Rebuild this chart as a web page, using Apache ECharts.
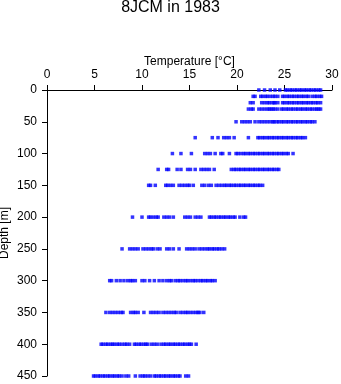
<!DOCTYPE html>
<html><head><meta charset="utf-8">
<script src="https://cdn.jsdelivr.net/npm/echarts@6/dist/echarts.min.js"></script>
<style>html,body{margin:0;padding:0;background:#fff}#c{width:341px;height:384px}</style>
</head><body><div id="c"></div>
<script>
var depths = [0,10,20,30,50,75,100,125,150,200,250,300,350,400,450];
var xTicks = [0,5,10,15,20,25,30];
var yTicks = [0,50,100,150,200,250,300,350,400,450];
var t0 = [22.3,22.9,23.5,24.0,24.5,25.1,25.3,25.6,25.8,26.1,26.3,26.6,26.8,27.1,27.3,27.6,27.8,28.1,28.3,28.6,28.8];
var t10 = [21.7,21.9,22.5,22.7,23.0,23.2,23.5,23.8,24.0,24.3,24.8,25.0,25.3,25.5,25.8,26.0,26.3,26.5,26.8,27.0,27.3,27.5,27.9,28.2,28.4,28.7,28.9];
var t20 = [21.4,21.7,22.6,22.9,23.2,23.4,23.7,23.9,24.0,24.3,24.8,25.0,25.3,25.5,25.8,26.0,26.3,26.5,26.8,27.0,27.3,27.5,27.8,28.0,28.3,28.5,28.8];
var t30 = [21.2,21.5,21.7,22.3,22.6,22.9,23.2,23.4,23.6,23.8,24.0,24.3,24.7,24.9,25.2,25.4,25.7,25.9,26.2,26.4,26.7,26.9,27.2,27.4,27.7,27.9,28.2,28.4,28.6,28.8];
var t50 = [19.9,20.5,20.8,21.1,21.4,21.9,22.3,22.6,22.9,23.2,23.5,23.8,23.9,24.2,24.4,24.7,24.9,25.2,25.4,25.7,25.9,26.2,26.4,26.7,26.9,27.2,27.4,27.7,27.9,28.2];
var t75 = [15.6,17.4,18.0,18.6,18.9,19.2,19.7,21.2,22.2,22.4,22.7,22.9,23.2,23.4,23.7,23.9,24.2,24.4,24.7,24.9,25.2,25.4,25.7,25.9,26.2,26.4,26.7,26.9,27.2];
var t100 = [13.2,14.1,15.2,16.6,16.9,17.2,17.7,18.3,18.5,19.2,19.9,20.1,20.4,20.7,20.9,21.2,21.4,21.7,21.9,22.2,22.4,22.7,22.9,23.2,23.4,23.7,23.9,24.2,24.4,24.7,24.9,25.2,25.4,25.9];
var t125 = [11.7,12.6,12.8,13.7,14.1,14.8,15.1,15.6,16.2,16.5,16.8,17.1,17.6,19.4,19.7,19.9,20.2,20.4,20.7,20.9,21.2,21.4,21.7,21.9,22.2,22.4,22.7,22.9,23.2,23.4,23.7,23.9,24.2,24.4];
var t150 = [10.7,10.9,11.4,12.5,12.7,13.0,13.3,13.9,14.2,14.5,14.8,15.0,15.4,16.3,16.6,17.0,17.3,17.8,18.1,18.4,18.7,18.9,19.2,19.4,19.7,19.9,20.2,20.4,20.7,20.9,21.2,21.4,21.7,21.9,22.2,22.4,22.7];
var t200 = [9.0,10.0,10.7,10.9,11.2,11.5,11.7,12.3,12.6,12.9,13.3,14.5,14.8,15.1,15.6,15.9,16.2,17.1,17.3,17.6,17.8,18.1,18.3,18.6,18.8,19.1,19.3,19.6,19.8,20.3,20.7,20.9];
var t250 = [7.9,8.7,9.0,9.3,9.6,10.1,10.4,10.7,11.0,11.2,11.6,11.9,12.6,12.9,13.3,13.9,14.7,15.0,15.3,15.6,16.0,16.3,16.6,16.9,17.1,17.4,17.6,17.9,18.1,18.4,18.7];
var t300 = [6.6,6.8,7.3,7.7,8.1,8.5,8.8,9.0,9.3,10.0,10.3,10.8,11.3,11.8,12.2,12.6,12.9,13.1,13.5,13.8,14.0,14.3,14.6,14.8,15.1,15.4,15.6,15.9,16.2,16.4,16.7,16.9,17.2,17.4,17.7];
var t350 = [6.2,6.6,6.9,7.2,7.5,7.8,8.0,8.8,9.1,9.3,9.6,10.2,10.9,11.2,11.5,11.8,12.2,12.5,12.8,13.1,13.4,13.6,14.0,14.3,14.6,14.8,15.1,15.4,15.7,15.9,16.1,16.5];
var t400 = [5.7,5.9,6.2,6.4,6.7,6.9,7.1,7.4,7.6,7.9,8.2,8.4,8.7,9.2,9.4,9.7,9.9,10.2,10.4,10.6,11.0,11.3,11.6,12.0,12.3,12.5,12.8,13.0,13.3,13.5,13.8,14.0,14.3,14.5,14.8,15.0,15.2,15.7];
var t450 = [4.9,5.1,5.4,5.6,5.9,6.1,6.4,6.6,6.9,7.1,7.4,7.6,7.9,8.3,8.6,9.3,9.8,10.1,10.3,10.6,10.9,11.3,11.5,11.8,12.0,12.3,12.5,12.8,13.0,13.3,13.5,13.8,14.0,14.6,14.9];

var rows = [t0,t10,t20,t30,t50,t75,t100,t125,t150,t200,t250,t300,t350,t400,t450];
var pts = [];
rows.forEach(function(r,i){ r.forEach(function(t){ pts.push([t, depths[i]]); }); });

var FONT = 'Liberation Sans';
var chart = echarts.init(document.getElementById('c'), null, {renderer:'canvas'});
chart.setOption({
  animation:false,
  backgroundColor:'#fff',
  title:{text:'8JCM in 1983', left:'center', top:0, padding:0, textStyle:{fontFamily:FONT, fontSize:16, lineHeight:16, fontWeight:'normal', color:'#000'}},
  grid:{left:47, right:9, top:90, bottom:8, containLabel:false, outerBoundsMode:'none'},
  xAxis:{type:'value', position:'top', min:0, max:30, interval:5,
    name:'Temperature [°C]', nameLocation:'middle', nameGap:22, nameMoveOverlap:false,
    nameTextStyle:{fontFamily:FONT, fontSize:12, color:'#000'},
    axisLine:{show:true, onZero:false, lineStyle:{color:'#000', width:1}},
    axisTick:{show:true, inside:false, length:5, lineStyle:{color:'#000'}},
    axisLabel:{fontFamily:FONT, fontSize:12, color:'#000', margin:9},
    splitLine:{show:false}},
  yAxis:{type:'value', inverse:true, min:0, max:450, interval:50,
    name:'Depth [m]', nameLocation:'middle', nameGap:36, nameMoveOverlap:false,
    nameTextStyle:{fontFamily:FONT, fontSize:12, color:'#000'},
    axisLine:{show:true, onZero:false, lineStyle:{color:'#000', width:1}},
    axisTick:{show:true, inside:false, length:5, lineStyle:{color:'#000'}},
    axisLabel:{fontFamily:FONT, fontSize:12, color:'#000', margin:10},
    splitLine:{show:false}},
  series:[{type:'scatter', data:pts, symbol:'rect', symbolSize:3.5,
    itemStyle:{color:'#0000ff'}, silent:true}]
});
</script></body></html>
